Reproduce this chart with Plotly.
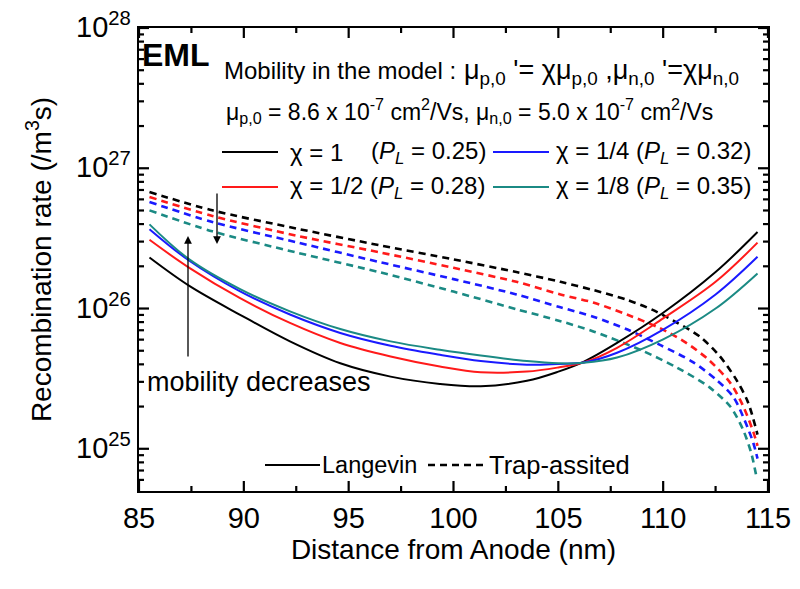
import math
import plotly.graph_objects as go

# ---- data ----
x_lang = [85.5, 87.4, 89.8, 92.2, 94.6, 97.0, 99.35, 101.3, 103.5, 105.0, 106.2, 107.8, 110.0, 112.5, 114.5]
lang_chi1 = [2.31e26, 1.45e26, 9.06e25, 5.83e25, 4.07e25, 3.27e25, 2.90e25, 2.79e25, 3.05e25, 3.55e25, 4.17e25, 5.69e25, 9.33e25, 1.82e26, 3.51e26]
lang_chi2 = [3.09e26, 1.95e26, 1.19e26, 7.89e25, 5.68e25, 4.55e25, 3.86e25, 3.51e25, 3.55e25, 3.80e25, 4.12e25, 5.25e25, 8.51e25, 1.55e26, 2.95e26]
lang_chi4 = [3.68e26, 2.19e26, 1.33e26, 9.06e25, 6.70e25, 5.43e25, 4.68e25, 4.22e25, 3.98e25, 4.03e25, 4.12e25, 4.84e25, 7.08e25, 1.26e26, 2.34e26]
lang_chi8 = [3.98e26, 2.24e26, 1.38e26, 9.55e25, 7.14e25, 5.83e25, 5.08e25, 4.62e25, 4.22e25, 4.07e25, 4.10e25, 4.47e25, 6.03e25, 1.00e26, 1.78e26]

x_trap_chi1 = [85.5, 88.5, 92.5, 96.5, 100.0, 103.0, 105.1, 106.7, 108.3, 109.5, 110.65, 111.75, 112.7, 113.5, 114.05, 114.5]
trap_chi1 = [6.76e26, 5.01e26, 3.72e26, 2.82e26, 2.24e26, 1.82e26, 1.55e26, 1.35e26, 1.15e26, 9.77e25, 7.94e25, 6.31e25, 4.57e25, 3.09e25, 2.14e25, 1.26e25]
x_trap_chi2 = [85.5, 88.5, 92.5, 96.5, 100.0, 103.0, 105.1, 106.7, 108.3, 109.85, 111.1, 112.2, 113.2, 113.8, 114.3, 114.5]
trap_chi2 = [6.25e26, 4.57e26, 3.31e26, 2.51e26, 1.95e26, 1.55e26, 1.26e26, 1.10e26, 9.02e25, 7.24e25, 5.69e25, 4.27e25, 2.95e25, 2.04e25, 1.32e25, 1.05e25]
x_trap_chi4 = [85.5, 88.5, 92.5, 96.5, 100.0, 103.0, 105.1, 106.7, 108.3, 109.85, 111.4, 112.55, 113.35, 113.9, 114.3, 114.5]
trap_chi4 = [5.75e26, 4.14e26, 2.97e26, 2.14e26, 1.62e26, 1.26e26, 1.02e26, 8.71e25, 7.08e25, 5.50e25, 4.17e25, 3.09e25, 2.34e25, 1.58e25, 1.10e25, 8.51e24]
x_trap_chi8 = [85.5, 88.5, 92.5, 96.5, 100.0, 103.0, 105.1, 106.7, 109.0, 110.65, 112.2, 113.2, 113.8, 114.2, 114.45]
trap_chi8 = [5.01e26, 3.55e26, 2.51e26, 1.81e26, 1.32e26, 9.89e25, 8.13e25, 6.84e25, 5.01e25, 3.80e25, 2.75e25, 2.00e25, 1.38e25, 9.33e24, 6.31e24]

series_names = ["1", "1/2", "1/4", "1/8"]
pl_values = ["0.25", "0.28", "0.32", "0.35"]
colors = ["#000000", "#ff1a1a", "#1a1aff", "#1b8a84"]

x_ticks = [85, 90, 95, 100, 105, 110, 115]
x_minor_ticks = [87.5, 92.5, 97.5, 102.5, 107.5, 112.5]
y_decades = [25, 26, 27, 28]
y_minor_mult = [2, 3, 4, 5, 6, 7, 8, 9]

FONT = "Liberation Sans, Arial, sans-serif"
CHI = "χ"

XR = [85, 115]
YR = [24.699, 28.0]

# ---- plot-area geometry (pixels) ----
L, R, T, B = 139, 768, 28, 491
W, H = R - L, B - T
def px(x):
    return (x - L) / W
def py(y):
    return (B - y) / H
def ylog_paper(logv):
    return (logv - YR[0]) / (YR[1] - YR[0])

fig = go.Figure()

lang = [lang_chi1, lang_chi2, lang_chi4, lang_chi8]
traps = [(x_trap_chi1, trap_chi1), (x_trap_chi2, trap_chi2), (x_trap_chi4, trap_chi4), (x_trap_chi8, trap_chi8)]

for i in range(4):
    tx, ty = traps[i]
    fig.add_trace(go.Scatter(x=tx, y=ty, mode="lines", showlegend=False, hoverinfo="skip",
                             line=dict(color=colors[i], width=2.6, dash="7px,5px", shape="spline", smoothing=0.8)))
for i in range(4):
    fig.add_trace(go.Scatter(x=x_lang, y=lang[i], mode="lines", showlegend=False, hoverinfo="skip",
                             line=dict(color=colors[i], width=2, shape="spline", smoothing=1.0)))

# ---- tick marks (inside, mirrored on all four sides), drawn on the axes' scales ----
dec_per_px = (YR[1] - YR[0]) / H
x_per_px = (XR[1] - XR[0]) / W
tx_, ty_ = [], []
for v, n in [(v, 10) for v in x_ticks] + [(v, 5) for v in x_minor_ticks]:
    tx_ += [v, v, None, v, v, None]
    ty_ += [10 ** YR[0], 10 ** (YR[0] + n * dec_per_px), None,
            10 ** YR[1], 10 ** (YR[1] - n * dec_per_px), None]
ylev = [(float(e), 10) for e in y_decades]
for e in (24, 25, 26, 27):
    for m in y_minor_mult:
        lv = e + math.log10(m)
        if YR[0] <= lv <= YR[1]:
            ylev.append((lv, 5))
for lv, n in ylev:
    tx_ += [XR[0], XR[0] + n * x_per_px, None, XR[1], XR[1] - n * x_per_px, None]
    ty_ += [10 ** lv, 10 ** lv, None, 10 ** lv, 10 ** lv, None]
fig.add_trace(go.Scatter(x=tx_, y=ty_, mode="lines", showlegend=False, hoverinfo="skip",
                         line=dict(color="black", width=2.2), connectgaps=False, cliponaxis=False))

shapes = []
annotations = []

# y tick labels
for e in y_decades:
    annotations.append(dict(xref="paper", yref="paper", x=0, y=ylog_paper(e), xanchor="right",
                            yanchor="middle", xshift=-6, yshift=3, showarrow=False,
                            text="10<sup>%d</sup>" % e, font=dict(family=FONT, size=29, color="black")))

def add_line_sample(x0, x1, y, color, dash="solid", width=2.2):
    shapes.append(dict(type="line", xref="paper", yref="paper",
                       x0=px(x0), x1=px(x1), y0=py(y), y1=py(y),
                       line=dict(color=color, width=width, dash=dash)))

def add_text(x, y, text, size=23, bold=False, family=FONT):
    annotations.append(dict(xref="paper", yref="paper", x=px(x), y=py(y),
                            xanchor="left", yanchor="middle", showarrow=False,
                            text=("<b>%s</b>" % text) if bold else text,
                            font=dict(family=family, size=size, color="black")))

add_text(140, 55, "EML", size=32, bold=True)
add_text(222, 70, "Mobility in the model :", size=24)
add_text(462, 72, "μ<sub>p,0</sub> '= %sμ<sub>p,0</sub> ,μ<sub>n,0</sub> '=%sμ<sub>n,0</sub>" % (CHI, CHI), size=27)
add_text(224, 111, "μ<sub>p,0</sub> = 8.6 x 10<sup>-7</sup> cm<sup>2</sup>/Vs, μ<sub>n,0</sub> = 5.0 x 10<sup>-7</sup> cm<sup>2</sup>/Vs", size=23)

# in-figure key for the four mobility cases
key_rows = [(152, 0, 2), (187, 1, 3)]
for y, left_i, right_i in key_rows:
    add_line_sample(222, 278, y, colors[left_i])
    add_line_sample(493, 549, y, colors[right_i])
for i, (xl, y) in enumerate([(288, 152), (288, 187), (554, 152), (554, 187)]):
    pl = "(<i>P</i><sub><i>L</i></sub> = %s)" % pl_values[i]
    if i == 0:
        add_text(xl, y, "%s = %s" % (CHI, series_names[i]), size=24)
        add_text(369, y, pl, size=24)
    else:
        add_text(xl, y, "%s = %s %s" % (CHI, series_names[i], pl), size=24)

add_text(145, 382, "mobility decreases", size=27)

# bottom key: line style
add_line_sample(265, 320, 465, "black", width=2)
add_text(320, 465, "Langevin", size=23.5)
add_line_sample(428, 487, 465, "black", dash="7px,5px", width=2.6)
add_text(487, 465, "Trap-assited", size=25.5)

# arrows (head position in paper coords, tail offset in pixels)
annotations.append(dict(xref="paper", yref="paper", axref="pixel", ayref="pixel",
                        x=px(217), y=py(244), ax=0, ay=-52, text="",
                        showarrow=True, arrowhead=2, arrowsize=1.2, arrowwidth=1.3, arrowcolor="black"))
annotations.append(dict(xref="paper", yref="paper", axref="pixel", ayref="pixel",
                        x=px(188), y=py(236), ax=0, ay=122, text="",
                        showarrow=True, arrowhead=2, arrowsize=1.2, arrowwidth=1.3, arrowcolor="black"))

fig.update_layout(
    width=800, height=589,
    margin=dict(l=L, r=800 - R, t=T, b=589 - B, autoexpand=False),
    paper_bgcolor="white", plot_bgcolor="white",
    font=dict(family=FONT, color="black"),
    shapes=shapes, annotations=annotations,
    showlegend=False,
    xaxis=dict(
        range=XR, tickmode="array", tickvals=x_ticks, ticktext=[str(v) for v in x_ticks],
        ticks="", showline=True, linewidth=2, linecolor="#000000", mirror=True,
        showgrid=False, zeroline=False, automargin=False,
        tickfont=dict(family=FONT, size=29),
        title=dict(text="Distance from Anode (nm)", font=dict(family=FONT, size=28), standoff=5),
    ),
    yaxis=dict(
        type="log", range=YR, dtick=1, showticklabels=False,
        ticks="", showline=True, linewidth=2, linecolor="#000000", mirror=True,
        showgrid=False, zeroline=False, automargin=False,
        title=dict(text="Recombination rate (/m<sup>3</sup>s)", font=dict(family=FONT, size=28), standoff=77),
    ),
)

fig.write_html("out.html")
